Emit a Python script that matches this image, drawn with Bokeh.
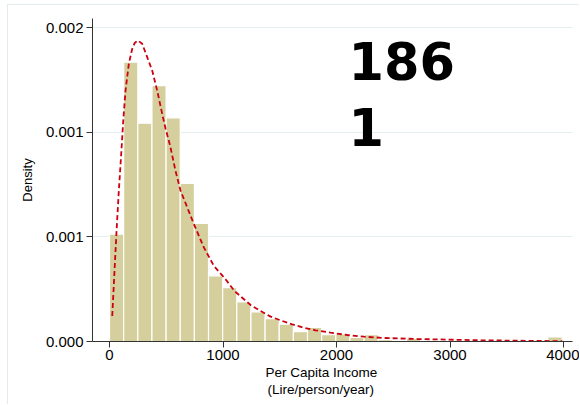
import numpy as np
from bokeh.plotting import figure
from bokeh.models import FixedTicker, Range1d, Title
from bokeh.core.properties import value
from bokeh.embed import file_html
from bokeh.resources import INLINE

# ---- data ----
bin_start = 0.0
bin_width = 124.6
density = [0.000514, 0.001336, 0.001044, 0.001224, 0.00107, 0.000756, 0.000565, 0.000314,
           0.000258, 0.000189, 0.000141, 0.000109, 0.0000824, 0.000047, 0.000068, 0.0000326,
           0.000036, 0.00002, 0.0000326, 0.0000086, 0.0000058, 0.0000153, 0.000005, 0.000005,
           0.000003, 0.000003, 0.000002, 0.000002, 0.000002, 0.0, 0.000002, 0.0000216]

curve_x = [24, 44, 62, 82, 103, 121, 141, 170, 200, 222, 249, 288, 332, 376, 420, 464, 493,
           522, 537, 581, 626, 685, 743, 831, 919, 1022, 1100, 1242, 1330, 1419, 1522, 1610,
           1712, 1815, 1947, 2094, 2241, 2417, 2711, 3269, 3989]
curve_y = [0.000122, 0.000338, 0.00053, 0.000721, 0.000897, 0.001057, 0.0012, 0.001328,
           0.0014, 0.001428, 0.00144, 0.001424, 0.00136, 0.001296, 0.0012, 0.001089, 0.00102,
           0.000961, 0.000929, 0.000817, 0.000721, 0.000641, 0.000562, 0.00045, 0.000362,
           0.000298, 0.000242, 0.000175, 0.000146, 0.000119, 0.0000982, 0.0000824, 0.0000661,
           0.0000537, 0.0000422, 0.0000311, 0.000023, 0.0000168, 0.000012, 0.0000058, 0.0000014]

x_tick_values = [0, 1000, 2000, 3000, 4000]
y_tick_values = [0.0, 0.0005, 0.001, 0.0015]
y_tick_labels = ["0.000", "0.001", "0.001", "0.002"]

note_text = ["186", "1"]
note_x = [2106, 2106]
note_y = [0.00134, 0.001024]

x_title_1 = "Per Capita Income"
x_title_2 = "(Lire/person/year)"
y_title = "Density"

# ---- figure ----
FONT = "Liberation Sans"
p = figure(width=572, height=400, output_backend="svg", toolbar_location=None,
           x_range=Range1d(-150, 4079), y_range=Range1d(0, 0.001545),
           min_border_left=84, min_border_right=8, min_border_top=13, min_border_bottom=64,
           background_fill_color="white", border_fill_color="white")
p.styles = {"margin-left": "7px", "margin-top": "4px",
            "border-left": "1px solid #e4ebee", "border-top": "1px solid #e4ebee"}
p.outline_line_color = None

lefts = [bin_start + i * bin_width for i in range(len(density))]
rights = [l + bin_width for l in lefts]
p.quad(left=lefts, right=rights, bottom=0, top=density,
       fill_color="#d5ce9d", line_color="white", line_width=1.2)

p.line(curve_x, curve_y, line_color="#cc0011", line_width=1.8, line_dash="5 3")

p.text(x=note_x, y=note_y, text=note_text, text_font=value("DejaVu Sans"), text_font_style="bold",
       text_font_size="51px", text_baseline="alphabetic", text_align="left", text_color="black")

# grid
p.xgrid.visible = False
p.ygrid.ticker = FixedTicker(ticks=[0.0005, 0.001, 0.0015])
p.ygrid.grid_line_color = "#e5eef1"
p.ygrid.grid_line_width = 1

# axes
for ax in (p.xaxis, p.yaxis):
    ax.axis_line_color = "#333333"
    ax.major_tick_line_color = "#333333"
    ax.major_tick_out = 6
    ax.major_tick_in = 0
    ax.minor_tick_line_color = None
    ax.major_label_text_font = FONT
    ax.major_label_text_font_size = "15px"
    ax.major_label_text_color = "black"
    ax.axis_label_text_font = FONT
    ax.axis_label_text_font_style = "normal"
    ax.axis_label_text_color = "black"

p.xaxis.ticker = FixedTicker(ticks=x_tick_values)
p.xaxis.major_label_standoff = 2
p.yaxis.ticker = FixedTicker(ticks=y_tick_values)
p.yaxis.major_label_overrides = dict(zip(y_tick_values, y_tick_labels))
p.yaxis.major_label_standoff = 3
p.yaxis.axis_label = y_title
p.yaxis.axis_label_text_font_size = "13px"
p.yaxis.axis_label_standoff = 8

t1 = Title(text=x_title_1, align="left", offset=173, standoff=0,
           text_font=FONT, text_font_size="13.5px", text_font_style="normal", text_color="black")
t2 = Title(text=x_title_2, align="left", offset=175, standoff=0,
           text_font=FONT, text_font_size="13.5px", text_font_style="normal", text_color="black")
p.add_layout(t1, "below")
p.add_layout(t2, "below")

open("out.html", "w").write(file_html(p, INLINE))
